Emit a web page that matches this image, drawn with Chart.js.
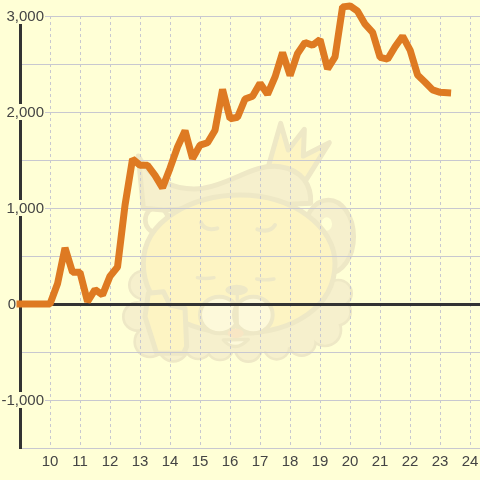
<!DOCTYPE html>
<html>
<head>
<meta charset="utf-8">
<style>
html, body { margin: 0; padding: 0; background: #ffffd6; }
canvas { display: block; }
</style>
<script src="https://cdn.jsdelivr.net/npm/chart.js@4"></script>
</head>
<body>
<canvas id="chart" width="480" height="480"></canvas>
<script>
const xValues = [
    9, 9.25, 9.5, 9.75, 10, 10.25, 10.5, 10.75, 11, 11.25, 11.5, 11.75,
    12, 12.25, 12.5, 12.75, 13, 13.25, 13.5, 13.75, 14, 14.25, 14.5, 14.75,
    15, 15.25, 15.5, 15.75, 16, 16.25, 16.5, 16.75, 17, 17.25, 17.5, 17.75,
    18, 18.25, 18.5, 18.75, 19, 19.25, 19.5, 19.75, 20, 20.25, 20.5, 20.75,
    21, 21.25, 21.5, 21.75, 22, 22.25, 22.5, 22.75, 23, 23.25
];
const yValues = [
    0, 0, 0, 0, 0, 210, 585, 330, 330, 25, 150, 95,
    290, 385, 1030, 1510, 1445, 1445, 1340, 1210, 1415, 1635, 1805, 1515,
    1655, 1680, 1810, 2235, 1930, 1945, 2135, 2165, 2300, 2185, 2365, 2620,
    2380, 2610, 2725, 2695, 2755, 2450, 2575, 3095, 3105, 3050, 2915, 2830,
    2570, 2550, 2680, 2790, 2645, 2385, 2310, 2230, 2205, 2200
];
const yTickLabels = [3000, 2000, 1000, 0, -1000];
const xTickLabels = [10, 11, 12, 13, 14, 15, 16, 17, 18, 19, 20, 21, 22, 23, 24];

const BG = '#ffffd6';
const GRID = '#c8c8d0';
const DARK = '#333333';
const TEXT = '#444444';
const FONT = '"Liberation Sans", Arial, sans-serif';

// faint mascot behind the chart, coordinates are a 3x sketch space
function drawMascot(ctx) {
    const line = '#eee8c6';
    const dark = '#f6f0cd';
    const body = '#fdf4c3';
    const pale = '#fdf9da';

    function shape(points, fill, width) {
        ctx.beginPath();
        points.forEach((p, i) => i ? ctx.lineTo(p[0], p[1]) : ctx.moveTo(p[0], p[1]));
        ctx.closePath();
        if (fill) { ctx.fillStyle = fill; ctx.fill(); }
        ctx.strokeStyle = line;
        ctx.lineWidth = width || 15;
        ctx.stroke();
    }
    function blob(x, y, rx, ry, fill, width) {
        ctx.beginPath();
        ctx.ellipse(x, y, rx, ry, 0, 0, Math.PI * 2);
        ctx.fillStyle = fill;
        ctx.fill();
        if (width) {
            ctx.strokeStyle = line;
            ctx.lineWidth = width;
            ctx.stroke();
        }
    }
    function curve(x0, y0, cx, cy, x1, y1, width) {
        ctx.beginPath();
        ctx.moveTo(x0, y0);
        ctx.quadraticCurveTo(cx, cy, x1, y1);
        ctx.strokeStyle = line;
        ctx.lineWidth = width || 12;
        ctx.stroke();
    }

    ctx.save();
    ctx.translate(120, 120);
    ctx.scale(1 / 3, 1 / 3);
    ctx.lineJoin = 'round';
    ctx.lineCap = 'round';

    // mane scallops, outline pass then fill pass
    const mane = [[70, 495, 38], [52, 590, 38], [90, 665, 42], [160, 680, 40], [235, 675, 38], [300, 680, 36],
        [385, 685, 36], [470, 680, 34], [545, 665, 38], [615, 630, 44], [650, 575, 38], [655, 520, 36]];
    mane.forEach(b => blob(b[0], b[1], b[2] + 8, b[2] + 8, line));
    blob(350, 580, 310, 118, dark);
    mane.forEach(b => blob(b[0], b[1], b[2], b[2], dark));

    // right ear and hair
    blob(625, 350, 76, 110, dark, 14);
    blob(620, 312, 16, 20, BG);
    // left ear
    blob(110, 300, 34, 38, BG, 14);

    // crown
    shape([[445, 140], [482, 10], [505, 90], [553, 28], [550, 108], [628, 68], [555, 185]], body);

    // wig
    ctx.beginPath();
    ctx.moveTo(55, 108);
    ctx.bezierCurveTo(90, 180, 170, 215, 250, 205);
    ctx.bezierCurveTo(340, 190, 400, 130, 480, 140);
    ctx.bezierCurveTo(550, 150, 575, 200, 572, 250);
    ctx.lineTo(130, 270);
    ctx.lineTo(70, 265);
    ctx.closePath();
    ctx.fillStyle = dark;
    ctx.fill();
    ctx.strokeStyle = line;
    ctx.lineWidth = 15;
    ctx.stroke();

    // head
    ctx.beginPath();
    ctx.moveTo(70, 430);
    ctx.bezierCurveTo(70, 300, 220, 225, 360, 225);
    ctx.bezierCurveTo(520, 225, 645, 320, 645, 430);
    ctx.bezierCurveTo(645, 560, 520, 640, 360, 640);
    ctx.bezierCurveTo(190, 640, 70, 560, 70, 430);
    ctx.closePath();
    ctx.fillStyle = body;
    ctx.fill();
    ctx.strokeStyle = line;
    ctx.lineWidth = 15;
    ctx.stroke();

    // paw
    shape([[75, 590], [85, 520], [130, 515], [150, 555], [195, 565], [200, 680], [190, 700], [110, 700]], body, 15);

    // muzzle
    blob(298, 585, 58, 55, pale, 12);
    blob(400, 585, 58, 55, pale, 12);
    curve(352, 520, 350, 570, 352, 625, 10);
    blob(350, 510, 34, 16, line);
    blob(347, 640, 24, 14, '#f8e6c4');
    // mouth
    ctx.beginPath();
    ctx.moveTo(310, 660);
    ctx.quadraticCurveTo(345, 700, 385, 658);
    ctx.closePath();
    ctx.fillStyle = pale;
    ctx.fill();
    ctx.strokeStyle = line;
    ctx.lineWidth = 10;
    ctx.stroke();

    // eyes and cheeks
    curve(243, 308, 255, 335, 292, 325);
    curve(412, 328, 450, 340, 465, 315);
    curve(232, 473, 255, 478, 282, 473, 10);
    curve(410, 477, 435, 482, 462, 477, 10);
    ctx.restore();
}

const backgroundPlugin = {
    id: 'background',
    beforeDraw(chart) {
        const ctx = chart.ctx;
        ctx.save();
        ctx.fillStyle = BG;
        ctx.fillRect(0, 0, chart.width, chart.height);
        ctx.restore();
        drawMascot(ctx);
    }
};

// y labels sit on top of the axis line, each on a patch of background
const yLabelPlugin = {
    id: 'yLabels',
    beforeDatasetsDraw(chart) {
        const ctx = chart.ctx;
        const scale = chart.scales.y;
        ctx.save();
        ctx.font = '15px ' + FONT;
        ctx.textBaseline = 'middle';
        ctx.textAlign = 'right';
        yTickLabels.forEach(v => {
            const y = scale.getPixelForValue(v);
            const right = v === 0 ? 16 : 44;
            const text = v.toLocaleString('en-US');
            const w = ctx.measureText(text).width;
            ctx.fillStyle = BG;
            ctx.fillRect(right - w - 2, y - 8, w + 3, 16);
            ctx.fillStyle = TEXT;
            ctx.fillText(text, right, y + 1);
        });
        ctx.restore();
    }
};

new Chart(document.getElementById('chart'), {
    type: 'line',
    data: {
        labels: xValues,
        datasets: [{
            data: xValues.map((x, i) => ({ x: x, y: yValues[i] })),
            borderColor: '#de7a22',
            borderWidth: 7,
            borderCapStyle: 'square',
            borderJoinStyle: 'bevel',
            pointRadius: 0,
            tension: 0,
            clip: false
        }]
    },
    options: {
        responsive: false,
        animation: false,
        layout: { padding: { top: 16, left: 0, right: 0, bottom: 0 } },
        plugins: { legend: { display: false }, tooltip: { enabled: false } },
        scales: {
            x: {
                type: 'linear',
                min: 9,
                max: 24.33,
                afterBuildTicks(axis) {
                    axis.ticks = xTickLabels.map(v => ({ value: v }));
                },
                afterFit(axis) {
                    axis.height = 32;
                    axis.paddingLeft = 0;
                    axis.paddingRight = 0;
                },
                ticks: {
                    autoSkip: false,
                    maxRotation: 0,
                    padding: 5,
                    color: TEXT,
                    font: { family: FONT, size: 15 },
                    callback: v => String(v)
                },
                grid: { color: GRID, lineWidth: 1, drawTicks: false },
                border: { display: false, dash: [3, 3] }
            },
            y: {
                min: -1500,
                max: 3000,
                afterFit(axis) { axis.width = 20; },
                ticks: { display: false, stepSize: 500 },
                grid: {
                    color: c => c.tick.value === 0 ? DARK : GRID,
                    lineWidth: c => c.tick.value === 0 ? 3 : 1,
                    drawTicks: false
                },
                border: { color: DARK, width: 3 }
            }
        }
    },
    plugins: [backgroundPlugin, yLabelPlugin]
});
</script>
</body>
</html>
